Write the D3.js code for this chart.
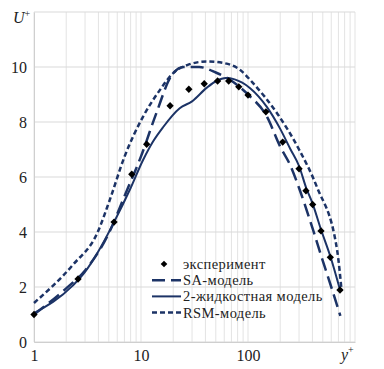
<!DOCTYPE html>
<html>
<head>
<meta charset="utf-8">
<script src="https://cdn.jsdelivr.net/npm/d3@7"></script>
<style>
  body { margin: 0; background: #fff; }
  svg text { font-family: "Liberation Serif", "Times New Roman", "DejaVu Serif", serif; fill: #222; }
</style>
</head>
<body>
<script>
// experiment points (y+, U+)
var expX = [1, 2.58, 5.6, 8.2, 11.3, 18.7, 28, 39, 52, 66, 82, 100, 147, 211, 300, 348, 402, 481, 588, 724];
var expY = [1.0, 2.29, 4.36, 6.1, 7.19, 8.59, 9.19, 9.39, 9.49, 9.49, 9.28, 8.98, 8.37, 7.27, 6.3, 5.5, 5.0, 4.04, 3.08, 1.89];

// SA model (long dash)
var saX = [1, 2, 3, 5, 7, 10, 14, 19, 25, 35, 50, 70, 100, 150, 200, 250, 300, 400, 500, 600, 730];
var saY = [1.0, 1.95, 2.6, 3.95, 5.3, 6.75, 8.35, 9.65, 10.0, 10.0, 9.8, 9.5, 9.0, 8.2, 7.1, 6.4, 5.6, 4.15, 2.95, 2.0, 0.95];

// 2-fluid model (solid)
var tfX = [1, 2.3, 3, 4, 5.6, 8, 10.4, 13, 16, 23, 30, 41, 51, 62, 75, 104, 150, 200, 250, 300, 350, 400, 480, 590, 730];
var tfY = [1.05, 2.05, 2.55, 3.3, 4.36, 5.6, 6.6, 7.3, 7.8, 8.5, 8.75, 9.24, 9.5, 9.6, 9.55, 9.24, 8.55, 7.75, 7.0, 6.4, 5.6, 5.05, 4.1, 3.1, 1.85];

// RSM model (short dash)
var rsX = [1, 2.3, 3.9, 5.1, 7, 10.4, 15, 20, 27, 41, 58, 84, 111, 186, 300, 440, 680, 750];
var rsY = [1.42, 2.8, 3.96, 5.16, 6.73, 8.18, 9.16, 9.78, 10.07, 10.2, 10.15, 9.9, 9.42, 8.33, 7.0, 5.64, 3.35, 1.85];

var yTicks = [0, 2, 4, 6, 8, 10];
var xTicks = [1, 10, 100];

var legendItems = ["эксперимент", "SA-модель", "2-жидкостная модель", "RSM-модель"];

var W = 384, H = 369;
var svg = d3.select("body").append("svg").attr("width", W).attr("height", H);

var serif = "'Liberation Serif', 'Times New Roman', serif";
var x = d3.scaleLog().domain([1, 1000]).range([34, 355]);
var y = d3.scaleLinear().domain([0, 12]).range([342, 12]);

var navy = "#1c3366";
var grid = "#e3e3e3";

// grid lines
var minor = [];
[1, 10, 100].forEach(function(d) { for (var k = 1; k <= 9; k++) minor.push(d * k); });
minor.push(1000);
svg.append("g").selectAll("line").data(minor).enter().append("line")
  .attr("x1", function(d) { return x(d); }).attr("x2", function(d) { return x(d); })
  .attr("y1", y(0)).attr("y2", y(12))
  .attr("stroke", grid).attr("stroke-width", 1);
svg.append("g").selectAll("line").data([0, 2, 4, 6, 8, 10, 12]).enter().append("line")
  .attr("x1", x(1)).attr("x2", x(1000))
  .attr("y1", function(d) { return y(d); }).attr("y2", function(d) { return y(d); })
  .attr("stroke", "#dadada").attr("stroke-width", 1.2);

// axes
var yAxis = d3.axisLeft(y).tickValues(yTicks).tickSize(0).tickPadding(7);
var gy = svg.append("g").attr("transform", "translate(" + x(1) + ",0)").call(yAxis)
  .attr("font-family", serif).attr("font-size", 16);
gy.select(".domain").attr("stroke", "#cfcfcf");
gy.selectAll("text").attr("fill", "#222");

var xAxis = d3.axisBottom(x).tickValues(xTicks).tickFormat(d3.format("d")).tickSize(0).tickPadding(8);
var gx = svg.append("g").attr("transform", "translate(0," + y(0) + ")").call(xAxis)
  .attr("font-family", serif).attr("font-size", 16);
gx.select(".domain").attr("stroke", "#cfcfcf");
gx.selectAll("text").attr("fill", "#222");

// axis titles
var ut = svg.append("text").attr("x", 13).attr("y", 23).attr("font-family", serif).attr("font-size", 16);
ut.append("tspan").attr("font-style", "italic").text("U");
ut.append("tspan").attr("dy", -6).attr("font-size", 10).text("+");
var yt = svg.append("text").attr("x", 341).attr("y", 360).attr("font-family", serif).attr("font-size", 16);
yt.append("tspan").attr("font-style", "italic").text("y");
yt.append("tspan").attr("dy", -7).attr("font-size", 10).text("+");

// lines
var line = d3.line()
  .x(function(d) { return x(d[0]); })
  .y(function(d) { return y(d[1]); })
  .curve(d3.curveMonotoneX);

function pts(xs, ys) { return xs.map(function(d, i) { return [d, ys[i]]; }); }

svg.append("path").attr("d", line(pts(rsX, rsY)))
  .attr("fill", "none").attr("stroke", navy).attr("stroke-width", 2.5).attr("stroke-dasharray", "5,3");
svg.append("path").attr("d", line(pts(saX, saY)))
  .attr("fill", "none").attr("stroke", navy).attr("stroke-width", 2.5).attr("stroke-dasharray", "13,6");
svg.append("path").attr("d", line(pts(tfX, tfY)))
  .attr("fill", "none").attr("stroke", navy).attr("stroke-width", 2);

// experiment markers
var diamond = d3.symbol().type(d3.symbolDiamond2).size(34);
svg.append("g").selectAll("path").data(pts(expX, expY)).enter().append("path")
  .attr("d", diamond)
  .attr("transform", function(d) { return "translate(" + x(d[0]) + "," + y(d[1]) + ")"; })
  .attr("fill", "#000");

// legend
var lg = svg.append("g").attr("transform", "translate(152,264)")
  .attr("font-family", serif).attr("font-size", 14.5);
var styles = [null, "13,6", "none", "5,3"];
legendItems.forEach(function(t, i) {
  var gy0 = i * 16.2;
  if (i === 0) {
    lg.append("path").attr("d", d3.symbol().type(d3.symbolDiamond2).size(28))
      .attr("transform", "translate(12," + gy0 + ")").attr("fill", "#000");
  } else {
    lg.append("line").attr("x1", 0).attr("x2", 29).attr("y1", gy0).attr("y2", gy0)
      .attr("stroke", navy).attr("stroke-width", i === 2 ? 2 : 2.5)
      .attr("stroke-dasharray", styles[i]);
  }
  lg.append("text").attr("x", 31).attr("y", gy0 + 5).attr("letter-spacing", 0.4).text(t);
});
</script>
</body>
</html>
